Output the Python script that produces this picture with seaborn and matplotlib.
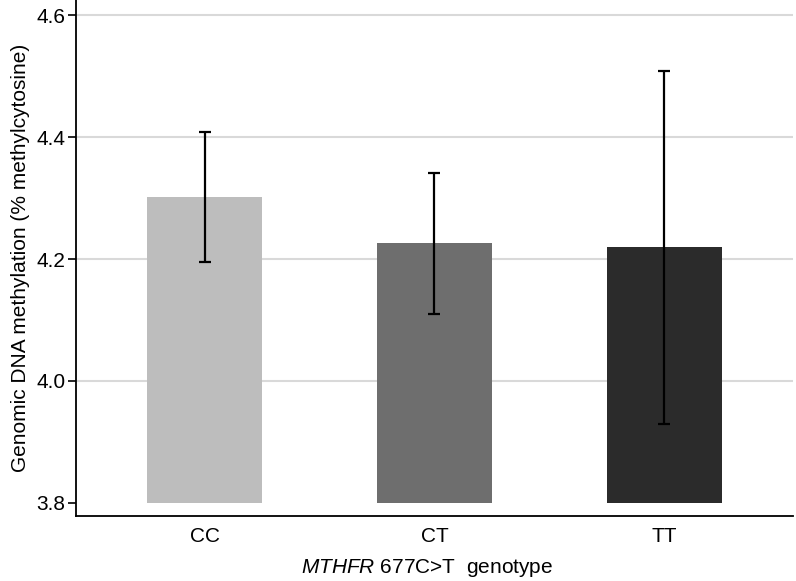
import numpy as np
import pandas as pd
import seaborn as sns
import matplotlib
matplotlib.use("Agg")
import matplotlib.pyplot as plt

# values
genotypes = ["CC", "CT", "TT"]
mean_methylation = [4.302, 4.226, 4.219]
error_half_width = [0.107, 0.116, 0.289]
bar_colors = ["#bdbdbd", "#6e6e6e", "#2b2b2b"]
y_ticks = [3.8, 4.0, 4.2, 4.4, 4.6]
baseline = 3.8

sns.set_theme(style="white")
plt.rcParams["font.family"] = ["Liberation Sans", "DejaVu Sans"]
plt.rcParams["mathtext.fontset"] = "custom"
plt.rcParams["mathtext.it"] = "Liberation Sans:italic"
plt.rcParams["mathtext.rm"] = "Liberation Sans"
plt.rcParams["text.color"] = "black"
plt.rcParams["axes.labelcolor"] = "black"
plt.rcParams["xtick.color"] = "black"
plt.rcParams["ytick.color"] = "black"

df = pd.DataFrame({"genotype": genotypes, "methylation": mean_methylation})

fig = plt.figure(figsize=(7.96, 5.81), dpi=100)
ax = fig.add_axes([0.0955, 0.1124, 0.9005, 0.8876])

sns.barplot(data=df, x="genotype", y="methylation", hue="genotype",
            palette=bar_colors, width=0.5, legend=False, ax=ax, zorder=2)

# bars in the original start at 3.8, not at the axis bottom
for patch in ax.patches:
    top = patch.get_y() + patch.get_height()
    patch.set_y(baseline)
    patch.set_height(top - baseline)
    patch.set_linewidth(0)

ax.errorbar(x=np.arange(len(genotypes)), y=mean_methylation, yerr=error_half_width,
            fmt="none", ecolor="black", elinewidth=1.6, capsize=4.5, capthick=1.6, zorder=3)

ax.set_xlim(-0.56, 2.56)
ax.set_ylim(3.779, 4.625)
ax.set_yticks(y_ticks)
ax.set_yticklabels([f"{t:.1f}" for t in y_ticks])
for t in y_ticks[1:]:
    ax.axhline(t, color="#d9d9d9", linewidth=1.5, zorder=1)

ax.tick_params(axis="y", which="major", left=True, length=5.5, width=1.2, color="black",
               labelcolor="black", labelsize=15, pad=2)
ax.tick_params(axis="x", bottom=False, labelcolor="black", labelsize=15, pad=2)

for side in ["top", "right"]:
    ax.spines[side].set_visible(False)
for side in ["left", "bottom"]:
    ax.spines[side].set_color("black")
    ax.spines[side].set_linewidth(1.3)

ax.set_ylabel("Genomic DNA methylation (% methylcytosine)", fontsize=15, labelpad=5,
              color="black")
ax.set_xlabel(r"$\it{MTHFR}$ 677C>T  genotype", fontsize=15, va="baseline", color="black")
ax.xaxis.set_label_coords(0.49, -0.111)

fig.savefig("out.png", dpi=100)
